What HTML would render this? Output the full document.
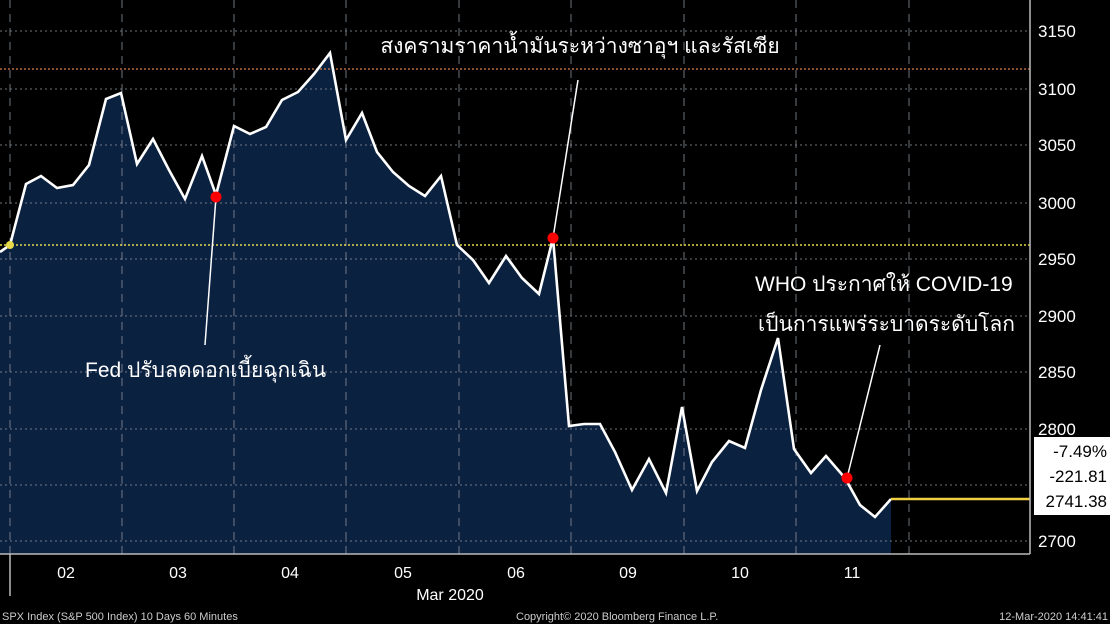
<!DOCTYPE html>
<html><head><meta charset="utf-8"><style>
html,body{margin:0;padding:0;background:#000;}
body{width:1110px;height:624px;overflow:hidden;position:relative;}
svg{position:absolute;left:0;top:0;}
</style></head><body>
<svg width="1110" height="624" xmlns="http://www.w3.org/2000/svg" font-family="'Liberation Sans','Noto Sans CJK SC',sans-serif">
<rect width="1110" height="624" fill="#000"/>
<polygon fill="#0b2140" points="0,252 10,245 26,184 41,176 57,188 73,185 89,165 106,99 121,93 137,164 153,139 169,170 185,199 202,156 216,195 234,126 250,134 266,127 282,100 298,92 314,74 330,53 346,140 362,113 377,152 393,172 409,186 425,196 441,176 457,245 473,260 489,283 506,256 522,278 539,294 553,238 569,426 584,424 600,424 615,452 632,490 649,459 666,493 682,407 697,491 712,462 729,441 745,448 761,390 778,338 794,449 811,473 826,456 845,478 860,505 875,517 891,499 891,554 0,554"/>
<g stroke="#8a9099" stroke-width="1" stroke-dasharray="2,3" opacity="0.8">
<line x1="0" y1="31" x2="1030" y2="31"/><line x1="0" y1="89" x2="1030" y2="89"/><line x1="0" y1="145" x2="1030" y2="145"/><line x1="0" y1="203" x2="1030" y2="203"/><line x1="0" y1="259" x2="1030" y2="259"/><line x1="0" y1="316" x2="1030" y2="316"/><line x1="0" y1="372" x2="1030" y2="372"/><line x1="0" y1="429" x2="1030" y2="429"/><line x1="0" y1="485" x2="1030" y2="485"/><line x1="0" y1="541" x2="1030" y2="541"/>
</g>
<g stroke="#8a9099" stroke-width="1" stroke-dasharray="8,6" opacity="0.8">
<line x1="10" y1="0" x2="10" y2="554"/><line x1="122" y1="0" x2="122" y2="554"/><line x1="234" y1="0" x2="234" y2="554"/><line x1="346" y1="0" x2="346" y2="554"/><line x1="459" y1="0" x2="459" y2="554"/><line x1="571" y1="0" x2="571" y2="554"/><line x1="684" y1="0" x2="684" y2="554"/><line x1="796" y1="0" x2="796" y2="554"/><line x1="909" y1="0" x2="909" y2="554"/>
</g>
<line x1="0" y1="69" x2="1030" y2="69" stroke="#d9804a" stroke-width="1.3" stroke-dasharray="2,2"/>
<line x1="0" y1="245" x2="1030" y2="245" stroke="#e6d84a" stroke-width="1.5" stroke-dasharray="2,2"/>
<polyline fill="none" stroke="#fff" stroke-width="2.6" stroke-linejoin="miter" points="0,252 10,245 26,184 41,176 57,188 73,185 89,165 106,99 121,93 137,164 153,139 169,170 185,199 202,156 216,195 234,126 250,134 266,127 282,100 298,92 314,74 330,53 346,140 362,113 377,152 393,172 409,186 425,196 441,176 457,245 473,260 489,283 506,256 522,278 539,294 553,238 569,426 584,424 600,424 615,452 632,490 649,459 666,493 682,407 697,491 712,462 729,441 745,448 761,390 778,338 794,449 811,473 826,456 845,478 860,505 875,517 891,499"/>
<line x1="891" y1="499" x2="1030" y2="499" stroke="#f0d040" stroke-width="2.5"/>
<g stroke="#fff" stroke-width="1.5">
<line x1="216" y1="197" x2="205" y2="345"/><line x1="553" y1="238" x2="578" y2="80"/><line x1="847" y1="478" x2="880" y2="345"/>
</g>
<circle cx="10" cy="245" r="4" fill="#e6d84a"/>
<circle cx="216" cy="197" r="5.5" fill="#f00"/><circle cx="553" cy="238" r="5.5" fill="#f00"/><circle cx="847" cy="478" r="5.5" fill="#f00"/>
<line x1="0" y1="554" x2="1030" y2="554" stroke="#bbb" stroke-width="1.5"/>
<line x1="1030" y1="0" x2="1030" y2="554" stroke="#bbb" stroke-width="1.5"/>
<line x1="10" y1="554" x2="10" y2="596" stroke="#bbb" stroke-width="1.5"/>
<g fill="#fff" font-size="21">
<text x="580" y="53" text-anchor="middle">สงครามราคาน้ำมันระหว่างซาอุฯ และรัสเซีย</text>
<text x="85" y="377">Fed ปรับลดดอกเบี้ยฉุกเฉิน</text>
<text x="755" y="291">WHO ประกาศให้ COVID-19</text>
<text x="758" y="331">เป็นการแพร่ระบาดระดับโลก</text>
</g>
<g fill="#fff" font-size="17">
<text x="1038" y="37">3150</text><text x="1038" y="95">3100</text><text x="1038" y="151">3050</text><text x="1038" y="209">3000</text><text x="1038" y="265">2950</text><text x="1038" y="322">2900</text><text x="1038" y="378">2850</text><text x="1038" y="435">2800</text><text x="1038" y="547">2700</text>
</g>
<rect x="1034" y="437" width="76" height="78" fill="#fff"/>
<g fill="#000" font-size="17" text-anchor="end">
<text x="1107" y="457">-7.49%</text><text x="1107" y="482">-221.81</text><text x="1107" y="507">2741.38</text>
</g>
<g fill="#fff" font-size="16" text-anchor="middle">
<text x="66" y="578">02</text><text x="178" y="578">03</text><text x="290" y="578">04</text><text x="403" y="578">05</text><text x="516" y="578">06</text><text x="628" y="578">09</text><text x="740" y="578">10</text><text x="852" y="578">11</text>
<text x="450" y="600">Mar 2020</text>
</g>
<g fill="#ccc" font-size="11" font-family="'Liberation Sans',sans-serif">
<text x="2" y="620">SPX Index (S&amp;P 500 Index) 10 Days 60 Minutes</text>
<text x="516" y="620">Copyright© 2020 Bloomberg Finance L.P.</text>
<text x="1108" y="620" text-anchor="end">12-Mar-2020 14:41:41</text>
</g>
</svg>
</body></html>
